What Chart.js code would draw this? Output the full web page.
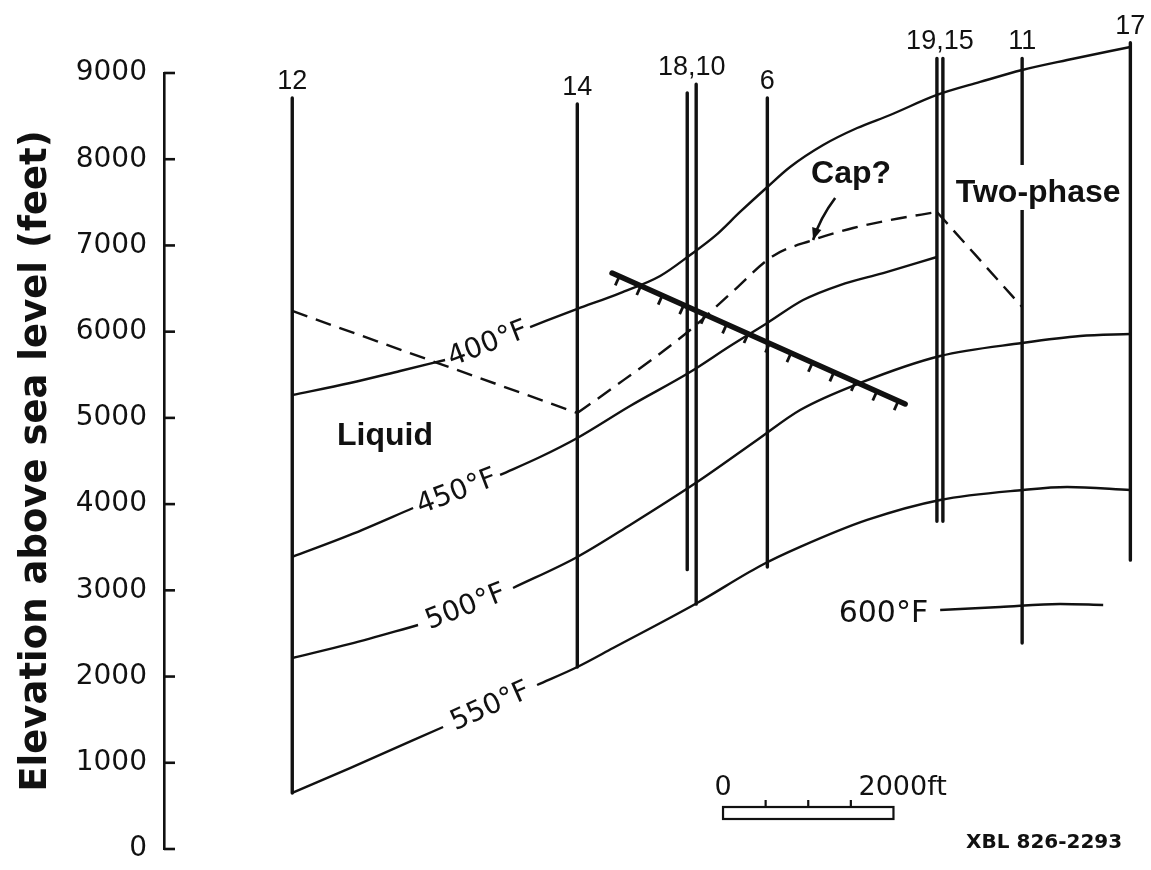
<!DOCTYPE html>
<html>
<head>
<meta charset="utf-8">
<script src="https://cdn.jsdelivr.net/npm/chart.js@4.4.1/dist/chart.umd.min.js"></script>
<style>
  html, body { margin: 0; padding: 0; background: #ffffff; }
  canvas { display: block; }
</style>
</head>
<body>
<canvas id="chart" width="1151" height="870" style="width:1151px;height:870px"></canvas>
<script>
// ---------------- data (distance along section in ft, elevation in ft) ----------------
const elevationTicks = [0, 1000, 2000, 3000, 4000, 5000, 6000, 7000, 8000, 9000];

const wellNames    = ['12', '14', '18', '10', '6', '19', '15', '11', '17'];
const wellDistance = [1505, 4850, 6140, 6245, 7080, 9070, 9140, 10070, 11340];
const wellTop      = [8710, 8640, 8770, 8870, 8710, 9170, 9170, 9170, 9350];
const wellBottom   = [650, 2110, 3240, 2840, 3270, 3800, 3800, 2390, 3350];

const iso400Dist = [1505, 2183, 2770, 3298, 3800, 4296, 4850, 5352, 5822, 6174, 6467, 6760, 7080, 7347, 7735, 8134, 8521, 9070, 9577, 10070, 10599, 11340];
const iso400Elev = [5265, 5405, 5544, 5671, null, 6054, 6263, 6448, 6646, 6889, 7110, 7388, 7678, 7910, 8165, 8362, 8513, 8745, 8896, 9035, 9151, 9302];

const iso450Dist = [1505, 2183, 2923, 3430, 3944, 4413, 4850, 5469, 6174, 6643, 7080, 7500, 7934, 8439, 9070];
const iso450Elev = [3387, 3642, 3955, null, 4338, 4546, 4767, 5138, 5532, 5834, 6101, 6367, 6541, 6680, 6866];

const iso500Dist = [1505, 2183, 2981, 3540, 4096, 4850, 5469, 6256, 6960, 7465, 8169, 9108, 10070, 10751, 11340];
const iso500Elev = [2215, 2378, 2598, null, 3027, 3387, 3758, 4256, 4744, 5092, 5405, 5718, 5869, 5950, 5973];

const iso550Dist = [1505, 2183, 3275, 3830, 4378, 4850, 5270, 6256, 6995, 7465, 8251, 9108, 10082, 10598, 11340];
const iso550Elev = [650, 939, 1415, null, 1902, 2111, 2331, 2853, 3282, 3503, 3816, 4048, 4164, 4198, 4164];

const iso600Dist = [9108, 9812, 10516, 11021];
const iso600Elev = [2772, 2807, 2842, 2830];

const isothermNames = ['400°F', '450°F', '500°F', '550°F', '600°F'];

// dashed boundary (liquid / cap), corners at indices 1 and 9
const capDist = [1505, 4850, 5199, 6174, 6643, 7148, 7617, 8087, 8521, 9070, 10070];
const capElev = [6240, 5057, 5300, 6019, 6437, 6878, 7063, 7202, 7295, 7388, 6286];
const capCorners = [1, 9];

const faultDist = [5258, 8697];
const faultElev = [6680, 5161];

// text annotations (data units)
const notes = [
  { text: 'Liquid',    x: 2594,  y: 4686, knockout: false },
  { text: 'Two-phase', x: 10258, y: 7504, knockout: true },
  { text: 'Cap?',      x: 8063,  y: 7724, knockout: false }
];
const capArrow = { from: [7876, 7550], via: [7699, 7318], to: [7617, 7063] };
const scaleBar = { from: 6560, length: 2000, step: 500, top: 487, bottom: 348 };
const figureId = { text: 'XBL 826-2293', x: 11244, y: 10 };

// ---------------- styling ----------------
const INK = '#111111';

function pts(dist, elev) { return dist.map((d, i) => ({ x: d, y: elev[i] })); }

const datasets = [];
const base = { borderColor: INK, pointRadius: 0, fill: false, clip: false, spanGaps: false };

// isotherms
const isoSeries = [[iso400Dist, iso400Elev], [iso450Dist, iso450Elev], [iso500Dist, iso500Elev], [iso550Dist, iso550Elev], [iso600Dist, iso600Elev]];
isoSeries.forEach((s, i) => {
  datasets.push(Object.assign({}, base, {
    label: isothermNames[i], kind: 'isotherm', data: pts(s[0], s[1]),
    borderWidth: 2.4, cubicInterpolationMode: 'monotone'
  }));
});

// dashed boundary: split at corners
const capCuts = [0].concat(capCorners, [capDist.length - 1]);
for (let k = 0; k < capCuts.length - 1; k++) {
  const a = capCuts[k], b = capCuts[k + 1];
  datasets.push(Object.assign({}, base, {
    label: 'boundary', kind: 'cap',
    data: pts(capDist.slice(a, b + 1), capElev.slice(a, b + 1)),
    borderWidth: 2.4, borderDash: [16, 9], cubicInterpolationMode: 'monotone'
  }));
}

// wells
wellNames.forEach((n, i) => {
  datasets.push(Object.assign({}, base, {
    label: 'Well ' + n, kind: 'well',
    data: [{ x: wellDistance[i], y: wellTop[i] }, { x: wellDistance[i], y: wellBottom[i] }],
    borderWidth: 3.4, borderCapStyle: 'round'
  }));
});

// fault
datasets.push(Object.assign({}, base, {
  label: 'fault', kind: 'fault', data: pts(faultDist, faultElev),
  borderWidth: 5.5, borderCapStyle: 'round'
}));

// ---------------- decoration plugin ----------------
const decor = {
  id: 'decor',
  afterDraw(chart) {
    const { ctx, chartArea } = chart;
    const xs = chart.scales.x, ys = chart.scales.y;
    const X = v => xs.getPixelForValue(v), Y = v => ys.getPixelForValue(v);
    ctx.save();
    ctx.strokeStyle = INK; ctx.fillStyle = INK; ctx.lineCap = 'butt';

    // inward axis ticks
    ctx.lineWidth = 2.6;
    ys.ticks.forEach(t => {
      const yy = Y(t.value);
      ctx.beginPath(); ctx.moveTo(chartArea.left, yy); ctx.lineTo(chartArea.left + 11, yy); ctx.stroke();
    });

    // well labels (wells closer than 200 ft share one label)
    ctx.font = '27px "Liberation Sans"';
    ctx.textAlign = 'center'; ctx.textBaseline = 'alphabetic';
    const groups = [];
    wellNames.forEach((n, i) => {
      const g = groups[groups.length - 1];
      if (g && wellDistance[i] - wellDistance[g[g.length - 1]] < 200) g.push(i); else groups.push([i]);
    });
    groups.forEach(g => {
      const cx = g.reduce((s, i) => s + X(wellDistance[i]), 0) / g.length;
      const top = Math.min(...g.map(i => Y(wellTop[i])));
      ctx.fillText(g.map(i => wellNames[i]).join(','), cx, top - 9);
    });

    // isotherm labels in the gaps of the lines
    chart.data.datasets.forEach((ds, di) => {
      if (ds.kind !== 'isotherm') return;
      const meta = chart.getDatasetMeta(di);
      const gap = ds.data.findIndex(p => p.y === null);
      if (gap > 0) {
        const a = meta.data[gap - 1], b = meta.data[gap + 1];
        const ang = Math.atan2(b.y - a.y, b.x - a.x);
        ctx.save();
        ctx.translate((a.x + b.x) / 2, (a.y + b.y) / 2);
        ctx.rotate(ang);
        ctx.font = '28px "DejaVu Sans"';
        ctx.textAlign = 'center'; ctx.textBaseline = 'middle';
        ctx.fillText(ds.label, 0, 1);
        ctx.restore();
      } else {
        const a = meta.data[0];
        ctx.font = '30px "DejaVu Sans"';
        ctx.textAlign = 'right'; ctx.textBaseline = 'middle';
        ctx.fillText(ds.label, a.x - 12, a.y + 4);
      }
    });

    // fault hatching
    chart.data.datasets.forEach((ds, di) => {
      if (ds.kind !== 'fault') return;
      const m = chart.getDatasetMeta(di).data;
      const p0 = m[0], p1 = m[1];
      const L = Math.hypot(p1.x - p0.x, p1.y - p0.y);
      const ux = (p1.x - p0.x) / L, uy = (p1.y - p0.y) / L;
      const nx = -uy, ny = ux;
      ctx.lineWidth = 2.8;
      for (let s = 8; s < L - 4; s += 23.5) {
        const bx = p0.x + ux * s, by = p0.y + uy * s;
        ctx.beginPath(); ctx.moveTo(bx, by); ctx.lineTo(bx + nx * 10, by + ny * 10); ctx.stroke();
      }
    });

    // bold text notes
    ctx.font = 'bold 32px "Liberation Sans"';
    ctx.textAlign = 'center'; ctx.textBaseline = 'alphabetic';
    notes.forEach(n => {
      const cx = X(n.x), by = Y(n.y);
      if (n.knockout) {
        const w = ctx.measureText(n.text).width;
        ctx.fillStyle = '#ffffff';
        ctx.fillRect(cx - w / 2 - 3, by - 37, w + 6, 45);
        ctx.fillStyle = INK;
      }
      ctx.fillText(n.text, cx, by);
    });

    // arrow from "Cap?" to the dashed line
    const ax0 = X(capArrow.from[0]), ay0 = Y(capArrow.from[1]);
    const axc = X(capArrow.via[0]), ayc = Y(capArrow.via[1]);
    const ax1 = X(capArrow.to[0]), ay1 = Y(capArrow.to[1]);
    ctx.lineWidth = 2.6;
    ctx.beginPath(); ctx.moveTo(ax0, ay0); ctx.quadraticCurveTo(axc, ayc, ax1, ay1); ctx.stroke();
    const ang = Math.atan2(ay1 - ayc, ax1 - axc);
    ctx.beginPath();
    ctx.moveTo(ax1, ay1);
    ctx.lineTo(ax1 - 13 * Math.cos(ang - 0.38), ay1 - 13 * Math.sin(ang - 0.38));
    ctx.lineTo(ax1 - 13 * Math.cos(ang + 0.38), ay1 - 13 * Math.sin(ang + 0.38));
    ctx.closePath(); ctx.fill();

    // scale bar
    const sx0 = X(scaleBar.from), sx1 = X(scaleBar.from + scaleBar.length);
    const st = Y(scaleBar.top), sb = Y(scaleBar.bottom);
    ctx.lineWidth = 2.2;
    ctx.strokeRect(sx0, st, sx1 - sx0, sb - st);
    for (let v = scaleBar.step; v < scaleBar.length; v += scaleBar.step) {
      const tx = X(scaleBar.from + v);
      ctx.beginPath(); ctx.moveTo(tx, st); ctx.lineTo(tx, st - 7); ctx.stroke();
    }
    ctx.font = '27px "DejaVu Sans"';
    ctx.textBaseline = 'alphabetic';
    ctx.textAlign = 'center';
    ctx.fillText('0', sx0, st - 12);
    ctx.textAlign = 'left';
    ctx.fillText(scaleBar.length + 'ft', sx1 - 35, st - 12);

    // figure id
    ctx.font = 'bold 20px "DejaVu Sans"';
    ctx.textAlign = 'right';
    ctx.fillText(figureId.text, X(figureId.x), Y(figureId.y));

    ctx.restore();
  }
};

new Chart(document.getElementById('chart'), {
  type: 'line',
  data: { datasets },
  options: {
    responsive: false,
    animation: false,
    devicePixelRatio: 1,
    layout: { padding: { top: 73, bottom: 21, left: 0, right: 7 } },
    plugins: { legend: { display: false }, tooltip: { enabled: false } },
    elements: { point: { radius: 0 }, line: { capBezierPoints: false } },
    scales: {
      x: { type: 'linear', min: 0, max: 11500, display: false },
      y: {
        type: 'linear', min: 0, max: 9000,
        afterBuildTicks: s => { s.ticks = elevationTicks.map(v => ({ value: v })); },
        afterFit: s => { s.width = 164; s.paddingTop = 0; s.paddingBottom = 0; },
        ticks: {
          padding: 17, color: INK,
          font: { family: 'DejaVu Sans', size: 28 },
          callback: v => String(v)
        },
        grid: { display: false, drawTicks: false },
        border: { display: true, color: INK, width: 2.6 },
        title: {
          display: true, text: 'Elevation above sea level (feet)', color: INK,
          font: { family: 'DejaVu Sans', size: 37, weight: 'bold' },
          padding: { top: 14, bottom: 0 }
        }
      }
    }
  },
  plugins: [decor]
});
</script>
</body>
</html>
